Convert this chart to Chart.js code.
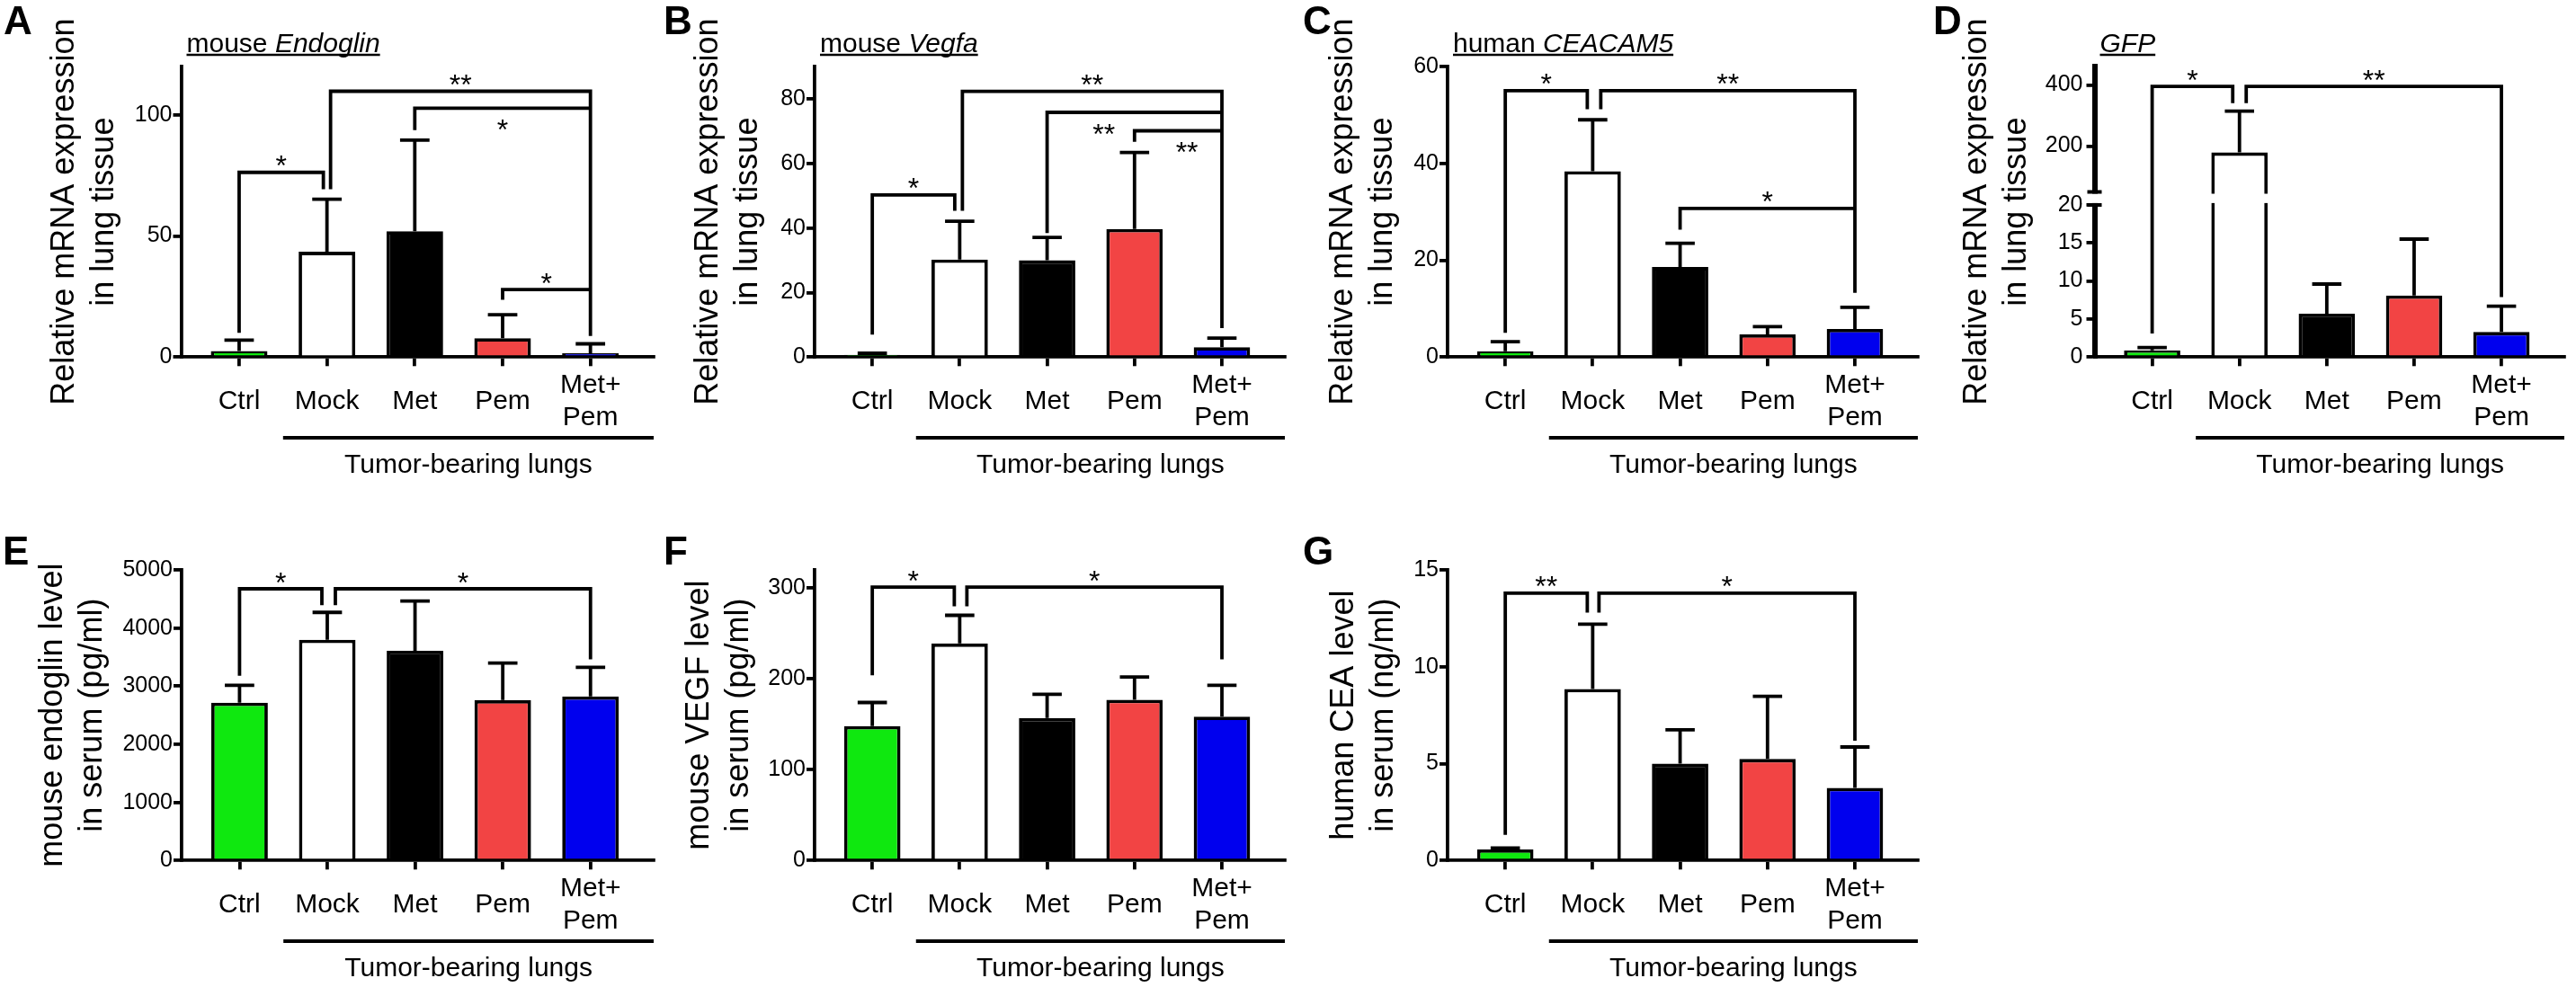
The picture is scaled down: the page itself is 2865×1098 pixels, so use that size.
<!DOCTYPE html>
<html>
<head>
<meta charset="utf-8">
<script src="https://cdn.jsdelivr.net/npm/chart.js@4.4.1/dist/chart.umd.min.js"></script>
<style>
  html, body { margin: 0; padding: 0; background: #fff; }
  body { width: 2865px; height: 1098px; position: relative; overflow: hidden; }
  canvas { position: absolute; }
</style>
</head>
<body>
<canvas id="pA"></canvas>
<canvas id="pB"></canvas>
<canvas id="pC"></canvas>
<canvas id="pD"></canvas>
<canvas id="pE"></canvas>
<canvas id="pF"></canvas>
<canvas id="pG"></canvas>
<script>
// groups, same for every panel
const categories = ['Ctrl', 'Mock', 'Met', 'Pem', 'Met+Pem'];
const xLabels = ['Ctrl', 'Mock', 'Met', 'Pem', ['Met+', 'Pem']];
const barColors = ['#0fe80f', '#ffffff', '#000000', '#f24444', '#0000ee'];

// bracket rows: from, to, bar height, left leg end, right leg end, label, star side, star position
// A  mouse Endoglin mRNA
const meansA = [2.5, 43.5, 52, 7.8, 1.6];
const errA = [4.5, 21.7, 37.6, 9.7, 3.9];
const ticksA = [0, 50, 100];
const bracketsA = [
  [0, 1, 76.3, 10, 69.3, '*', 'up'],
  [1, 4, 109.8, 69.3, 8.7, '**', 'up'],
  [2, 4, 102.8, 93.7, 102.8, '*', 'down'],
  [3, 4, 27.9, 23.7, 27.9, '*', 'up']
];

// B  mouse Vegfa mRNA
const meansB = [0.7, 30.2, 30, 39.7, 3.1];
const errB = [0.5, 11.9, 7.1, 23.7, 2.8];
const ticksB = [0, 20, 40, 60, 80];
const bracketsB = [
  [0, 1, 50.2, 7.0, 45.3, '*', 'up'],
  [1, 4, 82.3, 45.3, 9.0, '**', 'up'],
  [2, 4, 75.8, 38.4, 75.8, '**', 'down', 2.65],
  [3, 4, 70.1, 66.7, 70.1, '**', 'down', 3.6]
];

// C  human CEACAM5 mRNA
const meansC = [1.2, 38.4, 18.6, 4.7, 5.8];
const errC = [2.0, 10.6, 4.9, 1.6, 4.5];
const ticksC = [0, 20, 40, 60];
const bracketsC = [
  [0, 1, 55.0, 5.0, 51.2, '*', 'up'],
  [1, 4, 55.0, 51.2, 13.3, '**', 'up'],
  [2, 4, 30.7, 26.3, 30.7, '*', 'up']
];

// D  GFP mRNA, broken axis 0-20 / 50-460
const meansD = [0.9, 179, 5.7, 8.1, 3.3];
const errD = [0.35, 135, 3.9, 7.4, 3.4];
const ticksD = [0, 5, 10, 15, 20, 200, 400];
const bracketsD = [
  [0, 1, 395, 3.1, 340, '*', 'up'],
  [1, 4, 395, 340, 7.9, '**', 'up']
];

// E  serum endoglin
const meansE = [2716, 3799, 3609, 2760, 2825];
const errE = [298, 470, 855, 638, 498];
const ticksE = [0, 1000, 2000, 3000, 4000, 5000];
const bracketsE = [
  [0, 1, 4675, 3180, 4392, '*', 'up'],
  [1, 4, 4675, 4392, 3463, '*', 'up']
];

// F  serum VEGF
const meansF = [148, 239, 157, 177, 158.5];
const errF = [26, 31, 26, 25, 34.5];
const ticksF = [0, 100, 200, 300];
const bracketsF = [
  [0, 1, 301, 204, 280, '*', 'up'],
  [1, 4, 301, 280, 221.5, '*', 'up']
];

// G  serum CEA
const meansG = [0.57, 8.85, 5.0, 5.24, 3.75];
const errG = [0.08, 3.35, 1.75, 3.24, 2.11];
const ticksG = [0, 5, 10, 15];
const bracketsG = [
  [0, 1, 13.8, 1.33, 12.8, '**', 'up'],
  [1, 4, 13.8, 12.8, 6.18, '*', 'up']
];

const family = "'Liberation Sans', Arial, Helvetica, sans-serif";
Chart.defaults.font.family = family;
Chart.defaults.color = '#000';

const LW = 3.8;
const CHART_TOP = 74;
const CHART_BOTTOM = 397.3;

// linear scale with a gap between two value ranges
class BrokenScale extends Chart.LinearScale {
  static id = 'broken';
  _toDecimal(v) {
    const o = this.options;
    const lo = o.breakLow, hi = o.breakHigh;
    const fl = o.lowerFrac, fg = o.gapFrac, fu = 1 - fl - fg;
    if (v <= lo) return (v - this.min) / (lo - this.min) * fl;
    if (v < hi) return fl + (v - lo) / (hi - lo) * fg;
    return fl + fg + (v - hi) / (this.max - hi) * fu;
  }
  getPixelForValue(v) {
    if (v === null || isNaN(v)) return NaN;
    return this.getPixelForDecimal(this._toDecimal(v));
  }
  getValueForPixel(px) {
    const d = this.getDecimalForPixel(px);
    const o = this.options;
    const fl = o.lowerFrac, fg = o.gapFrac, fu = 1 - fl - fg;
    if (d <= fl) return this.min + d / fl * (o.breakLow - this.min);
    if (d < fl + fg) return o.breakLow + (d - fl) / fg * (o.breakHigh - o.breakLow);
    return o.breakHigh + (d - fl - fg) / fu * (this.max - o.breakHigh);
  }
}
Chart.register(BrokenScale);

function decor(p) {
  return {
    id: 'decor',
    afterDatasetsDraw(chart) {
      const ctx = chart.ctx;
      const xs = chart.scales.x, ys = chart.scales.y, area = chart.chartArea;
      const bars = chart.getDatasetMeta(0).data;
      ctx.save();
      ctx.strokeStyle = '#000';
      ctx.fillStyle = '#000';
      ctx.lineWidth = LW;

      if (p.broken) {
        const yHi = ys.getPixelForValue(p.broken.high);
        const yLo = ys.getPixelForValue(p.broken.low);
        ctx.fillStyle = '#fff';
        ctx.fillRect(area.left - 14, yHi + 2, area.right - area.left + 14, yLo - yHi - 4);
        ctx.fillStyle = '#000';
        ctx.lineWidth = 4;
        ctx.beginPath();
        ctx.moveTo(area.left - 8, yHi); ctx.lineTo(area.left + 8, yHi);
        ctx.moveTo(area.left - 8, yLo); ctx.lineTo(area.left + 8, yLo);
        ctx.stroke();
        ctx.lineWidth = LW;
      }

      // error bars (upper only)
      p.means.forEach((m, i) => {
        const b = bars[i];
        const top = ys.getPixelForValue(m + p.errs[i]);
        const half = b.width * 0.26;
        ctx.beginPath();
        ctx.moveTo(b.x, b.y); ctx.lineTo(b.x, top);
        ctx.moveTo(b.x - half, top); ctx.lineTo(b.x + half, top);
        ctx.stroke();
      });

      // significance brackets
      ctx.textAlign = 'center';
      ctx.textBaseline = 'alphabetic';
      ctx.font = '32px ' + family;
      p.brackets.forEach(([from, to, h, lEnd, rEnd, label, side, at]) => {
        const xl = xs.getPixelForValue(from) + (from === 1 ? p.legGap[1] : 0);
        const xr = xs.getPixelForValue(to) + (to === 1 ? p.legGap[0] : 0);
        const yh = ys.getPixelForValue(h);
        ctx.beginPath();
        ctx.moveTo(xl, ys.getPixelForValue(lEnd));
        ctx.lineTo(xl, yh);
        ctx.lineTo(xr, yh);
        ctx.lineTo(xr, ys.getPixelForValue(rEnd));
        ctx.stroke();
        const lx = at !== undefined ? xs.getPixelForValue(at) : (xl + xr) / 2;
        ctx.fillText(label, lx, side === 'down' ? yh + 35 : yh + 3.5);
      });

      // tumor-bearing group
      const gx0 = xs.getPixelForValue(0.5), gx1 = area.right;
      ctx.beginPath();
      ctx.moveTo(gx0, 487); ctx.lineTo(gx1, 487);
      ctx.stroke();
      ctx.font = '30px ' + family;
      ctx.fillText('Tumor-bearing lungs', (gx0 + gx1) / 2, 525.5);

      // underlined gene title
      if (p.title) {
        const tx = area.left + 6, ty = 58;
        ctx.textAlign = 'left';
        ctx.font = '30px ' + family;
        ctx.fillText(p.title[0], tx, ty);
        const w0 = ctx.measureText(p.title[0]).width;
        ctx.font = 'italic 30px ' + family;
        ctx.fillText(p.title[1], tx + w0, ty);
        const w1 = ctx.measureText(p.title[1]).width;
        ctx.lineWidth = 2.5;
        ctx.beginPath();
        ctx.moveTo(tx, ty + 3); ctx.lineTo(tx + w0 + w1, ty + 3);
        ctx.stroke();
      }

      // panel letter
      ctx.textAlign = 'left';
      ctx.font = 'bold 44px ' + family;
      ctx.fillText(p.letter, p.letterX, p.letterY);
      ctx.restore();
    }
  };
}

function makePanel(p) {
  const cv = document.getElementById(p.id);
  cv.width = p.w;
  cv.height = p.h;
  cv.style.left = p.x0 + 'px';
  cv.style.top = p.y0 + 'px';

  const yScale = {
    type: p.broken ? 'broken' : 'linear',
    min: 0,
    max: p.yMax,
    afterBuildTicks: s => { s.ticks = p.yTicks.map(v => ({ value: v })); },
    afterFit: s => { s.width = p.axisX; },
    ticks: { font: { size: 25 }, color: '#000', padding: p.broken ? 4 : 1, autoSkip: false, callback: v => String(v) },
    grid: { drawOnChartArea: false, drawTicks: true, tickLength: 9, lineWidth: LW, color: '#000' },
    border: { display: true, width: p.yBorder || LW, color: '#000' },
    title: {
      display: true, text: p.yTitle, color: '#000',
      font: { size: 36, lineHeight: 1.222 },
      padding: { top: p.titlePad, bottom: 0 }
    }
  };
  if (p.broken) {
    yScale.breakLow = p.broken.low;
    yScale.breakHigh = p.broken.high;
    yScale.lowerFrac = p.broken.lowerFrac;
    yScale.gapFrac = p.broken.gapFrac;
  }

  return new Chart(cv, {
    type: 'bar',
    data: {
      datasets: [{
        data: p.means.map((v, i) => ({ x: i, y: v })),
        backgroundColor: barColors,
        borderColor: '#000',
        borderWidth: LW,
        borderSkipped: 'start',
        barPercentage: 0.645,
        categoryPercentage: 1
      }]
    },
    options: {
      responsive: false,
      animation: false,
      devicePixelRatio: 1,
      layout: { padding: { left: 0, top: CHART_TOP, right: p.w - p.right, bottom: 0 } },
      plugins: { legend: { display: false }, tooltip: { enabled: false } },
      scales: {
        x: {
          type: 'linear',
          offset: false,
          min: -0.66,
          max: 4.72,
          afterBuildTicks: s => { s.ticks = categories.map((c, i) => ({ value: i })); },
          afterFit: s => { s.height = p.h - CHART_BOTTOM; },
          ticks: {
            callback: v => xLabels[v],
            font: { size: 30, lineHeight: 1.2 },
            color: '#000',
            padding: 21.5,
            crossAlign: 'center',
            autoSkip: false,
            maxRotation: 0,
            minRotation: 0
          },
          grid: { offset: false, drawOnChartArea: false, drawTicks: true, tickLength: 10, lineWidth: LW, color: '#000' },
          border: { display: true, width: LW, color: '#000' }
        },
        y: yScale
      }
    },
    plugins: [decor(p)]
  });
}

const mrnaTitle = ['Relative mRNA expression', 'in lung tissue'];

makePanel({ id: 'pA', letter: 'A', x0: 0, y0: 0, w: 740, h: 560, axisX: 201.5, right: 727,
  letterX: 4, letterY: 38, titlePad: 50.5, yTitle: mrnaTitle, title: ['mouse ', 'Endoglin'],
  yMax: 120, yTicks: ticksA, means: meansA, errs: errA, brackets: bracketsA, legGap: [-4, 4] });

makePanel({ id: 'pB', letter: 'B', x0: 720, y0: 0, w: 725, h: 560, axisX: 186, right: 709,
  letterX: 18, letterY: 38, titlePad: 46, yTitle: mrnaTitle, title: ['mouse ', 'Vegfa'],
  yMax: 90, yTicks: ticksB, means: meansB, errs: errB, brackets: bracketsB, legGap: [-5.5, 3] });

makePanel({ id: 'pC', letter: 'C', x0: 1440, y0: 0, w: 710, h: 560, axisX: 170, right: 693,
  letterX: 9, letterY: 38, titlePad: 32, yTitle: mrnaTitle, title: ['human ', 'CEACAM5'],
  yMax: 60, yTicks: ticksC, means: meansC, errs: errC, brackets: bracketsC, legGap: [-6, 9] });

makePanel({ id: 'pD', letter: 'D', x0: 2145, y0: 0, w: 720, h: 560, axisX: 184.5, right: 707,
  letterX: 5, letterY: 38, titlePad: 32, yTitle: mrnaTitle, title: ['', 'GFP'],
  yMax: 460, yTicks: ticksD, means: meansD, errs: errD, brackets: bracketsD, legGap: [-7.5, 7.5],
  yBorder: 6, broken: { low: 20, high: 50, lowerFrac: 0.524, gapFrac: 0.0445 } });

makePanel({ id: 'pE', letter: 'E', x0: 0, y0: 560, w: 740, h: 538, axisX: 202, right: 727,
  letterX: 3, letterY: 68, titlePad: 37.5, yTitle: ['mouse endoglin level', 'in serum (pg/ml)'],
  yMax: 5000, yTicks: ticksE, means: meansE, errs: errE, brackets: bracketsE, legGap: [-6, 9] });

makePanel({ id: 'pF', letter: 'F', x0: 720, y0: 560, w: 725, h: 538, axisX: 186, right: 709,
  letterX: 18, letterY: 68, titlePad: 36.5, yTitle: ['mouse VEGF level', 'in serum (pg/ml)'],
  yMax: 320, yTicks: ticksF, means: meansF, errs: errF, brackets: bracketsF, legGap: [-6, 8] });

makePanel({ id: 'pG', letter: 'G', x0: 1440, y0: 560, w: 710, h: 538, axisX: 170, right: 693,
  letterX: 9, letterY: 68, titlePad: 33.5, yTitle: ['human CEA level', 'in serum (ng/ml)'],
  yMax: 15, yTicks: ticksG, means: meansG, errs: errG, brackets: bracketsG, legGap: [-6, 7] });
</script>
</body>
</html>
